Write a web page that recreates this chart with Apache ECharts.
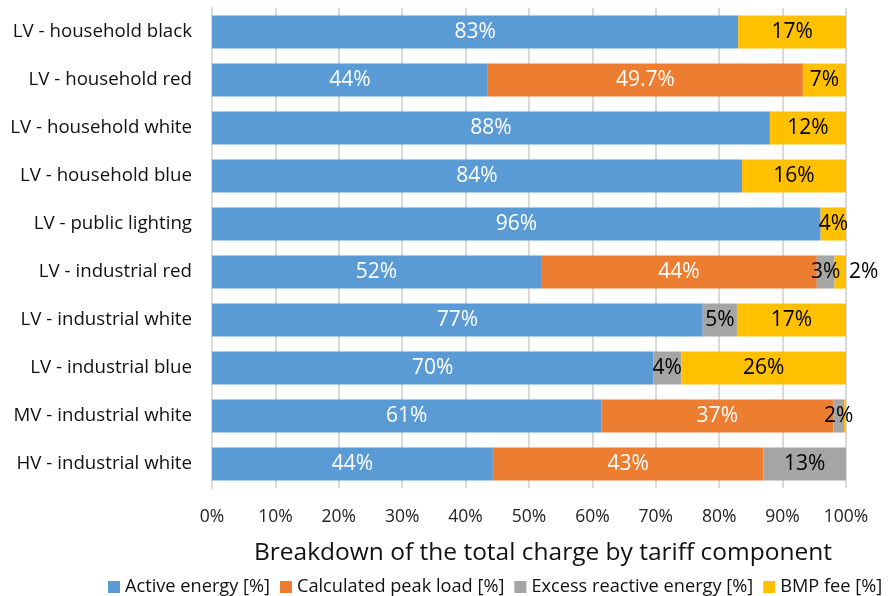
<!DOCTYPE html>
<html><head><meta charset="utf-8">
<script src="https://cdn.jsdelivr.net/npm/echarts@6/dist/echarts.min.js"></script>
<style>html,body{margin:0;padding:0;background:#fff}#c{width:893px;height:596px}</style>
</head><body><div id="c"></div>
<script>
const categories = ["LV - household black","LV - household red","LV - household white","LV - household blue","LV - public lighting","LV - industrial red","LV - industrial white","LV - industrial blue","MV - industrial white","HV - industrial white"];
const seriesNames = ["Active energy [%]","Calculated peak load [%]","Excess reactive energy [%]","BMP fee [%]"];
const activeEnergy = [83, 43.5, 88, 83.6, 96, 51.9, 77.4, 69.6, 61.4, 44.3];
const peakLoad     = [0, 49.7, 0, 0, 0, 43.5, 0, 0, 36.6, 42.7];
const reactive     = [0, 0, 0, 0, 0, 2.8, 5.4, 4.4, 1.7, 13];
const bmpFee       = [17, 6.8, 12, 16.4, 4, 1.8, 17.2, 26, 0.3, 0];
const activeLabels   = ["83%","44%","88%","84%","96%","52%","77%","70%","61%","44%"];
const peakLabels     = ["","49.7%","","","","44%","","","37%","43%"];
const reactiveLabels = ["","","","","","3%","5%","4%","2%","13%"];
const bmpLabels      = ["17%","7%","12%","16%","4%","2%","17%","26%","",""];
const xTicks = ["0%","10%","20%","30%","40%","50%","60%","70%","80%","90%","100%"];

const FONT = "Open Sans";
const colors = ["#5b9bd5","#ed7d31","#a5a5a5","#ffc000"];
const labelColors = ["#ffffff","#ffffff","#000000","#000000"];
const values = [activeEnergy, peakLoad, reactive, bmpFee];
const labels = [activeLabels, peakLabels, reactiveLabels, bmpLabels];

const series = seriesNames.map((name, s) => ({
  name, type: 'bar', stack: 'total', barCategoryGap: '31%',
  itemStyle: {color: colors[s]},
  label: {show: true, position: 'inside', color: labelColors[s], fontFamily: FONT, fontSize: 21,
    formatter: p => labels[s][p.dataIndex]},
  labelLayout: {hideOverlap: false},
  data: values[s].map((v, i) => {
    const d = {value: v};
    if (s === 3 && v > 0 && v < 3) d.label = {position: 'right', distance: 3};
    return d;
  })
}));

const chart = echarts.init(document.getElementById('c'), null, {renderer: 'canvas'});
chart.setOption({
  animation: false,
  color: colors,
  grid: {left: 212, right: 47, top: 8, bottom: 108, containLabel: false},
  xAxis: {type: 'value', min: 0, max: 100, interval: 10,
    axisLabel: {formatter: v => xTicks[Math.round(v/10)], color: '#222', fontFamily: FONT, fontSize: 17.5, margin: 20},
    splitLine: {show: true, lineStyle: {color: '#d9d9d9', width: 2}},
    axisLine: {show: false}, axisTick: {show: false},
    name: 'Breakdown of the total charge by tariff component', nameLocation: 'middle', nameGap: 53,
    nameTextStyle: {color: '#111', fontFamily: FONT, fontSize: 24.5, padding: [0, 0, 0, 28]}},
  yAxis: {type: 'category', data: categories, inverse: true,
    axisLabel: {color: '#111', fontFamily: FONT, fontSize: 18.7, margin: 20},
    axisLine: {show: true, lineStyle: {color: '#d9d9d9', width: 2}}, axisTick: {show: false}},
  legend: {top: 573, left: 103, itemWidth: 12, itemHeight: 12, itemGap: 10, icon: 'rect',
    textStyle: {color: '#111', fontFamily: FONT, fontSize: 18.2}, data: seriesNames},
  series
});
</script></body></html>
